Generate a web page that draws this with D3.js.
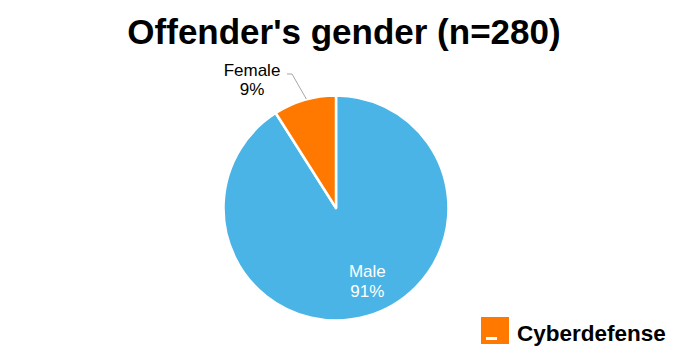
<!DOCTYPE html>
<html>
<head>
<meta charset="utf-8">
<script src="https://cdn.jsdelivr.net/npm/d3@7"></script>
<style>
html,body{margin:0;padding:0;background:#fff;}
svg{display:block;}
</style>
</head>
<body>
<script>
const categories = ["Male", "Female"];
const values = [91, 9];
const colors = ["#4BB4E6", "#FF7900"];
const titleText = "Offender's gender (n=280)";
const brandText = "Cyberdefense";

const W = 679, H = 358;
const svg = d3.select("body").append("svg").attr("width", W).attr("height", H);
svg.append("rect").attr("width", W).attr("height", H).attr("fill", "#fff");

svg.append("text")
  .attr("x", 344).attr("y", 44)
  .attr("text-anchor", "middle")
  .attr("font-family", "Liberation Sans, Arial, sans-serif")
  .attr("font-weight", "bold")
  .attr("font-size", 35)
  .attr("fill", "#000")
  .text(titleText);

const cx = 336, cy = 208, R = 112.5;
const g = svg.append("g").attr("transform", `translate(${cx},${cy})`);

const pie = d3.pie().sort(null).value(d => d.v);
const data = pie(categories.map((c, i) => ({ c, v: values[i], col: colors[i] })));
const arc = d3.arc().innerRadius(0).outerRadius(R);

g.selectAll("path").data(data).join("path")
  .attr("d", arc)
  .attr("fill", d => d.data.col)
  .attr("stroke", "#fff")
  .attr("stroke-width", 2.5)
  .attr("stroke-linejoin", "round");

const font = "Liberation Sans, Arial, sans-serif";
const fs = 17;

// Male label (inside)
const male = data[0];
const labArc = d3.arc().innerRadius(80).outerRadius(80);
const mc = labArc.centroid(male);
const mt = g.append("text")
  .attr("text-anchor", "middle")
  .attr("font-family", font).attr("font-size", fs)
  .attr("fill", "#fff");
mt.append("tspan").attr("x", mc[0] + 9).attr("y", mc[1] - 8).text(male.data.c);
mt.append("tspan").attr("x", mc[0] + 9).attr("y", mc[1] + 12).text(male.data.v + "%");

// Female label (outside with leader)
const fem = data[1];
const edge = d3.arc().innerRadius(R + 1).outerRadius(R + 1).centroid(fem);
const lx = -84, ly = -132;
g.append("polyline")
  .attr("points", [[lx + 35, ly - 2], [lx + 40, ly - 2], [edge[0] + 2, edge[1]]].map(p => p.join(",")).join(" "))
  .attr("fill", "none")
  .attr("stroke", "#a6a6a6")
  .attr("stroke-width", 1);
const ft = g.append("text")
  .attr("text-anchor", "middle")
  .attr("font-family", font).attr("font-size", fs)
  .attr("fill", "#000");
ft.append("tspan").attr("x", lx + 0).attr("y", ly + 0).text(fem.data.c);
ft.append("tspan").attr("x", lx + 0).attr("y", ly + 19).text(fem.data.v + "%");

// Brand logo
const logo = svg.append("g");
logo.append("rect").attr("x", 481).attr("y", 317).attr("width", 28).attr("height", 27).attr("fill", "#FF7900");
logo.append("rect").attr("x", 486).attr("y", 337).attr("width", 11).attr("height", 3).attr("fill", "#fff");
logo.append("text")
  .attr("x", 517).attr("y", 341)
  .attr("font-family", font).attr("font-weight", "bold").attr("font-size", 22.5)
  .attr("fill", "#000")
  .text(brandText);
</script>
</body>
</html>
